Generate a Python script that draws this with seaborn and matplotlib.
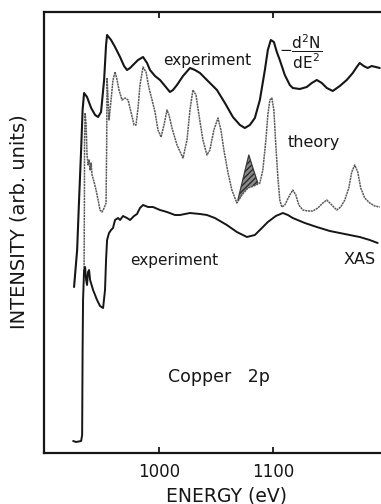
import numpy as np
import pandas as pd
import matplotlib
matplotlib.use("Agg")
import matplotlib.pyplot as plt
import seaborn as sns

# ---------------- data (energy in eV, intensity in arb. units) ----------------
aes_energy = [925.4, 928.1, 929.8, 931.6, 932.9, 934.2, 936.8, 940.4, 943.9, 946.5,
              949.1, 951.8, 953.5, 954.4, 957.9, 961.4, 965.8, 969.3, 971.9, 974.6,
              977.2, 981.6, 986.0, 989.5, 992.1, 996.5, 1000.9, 1005.3, 1009.6, 1012.3,
              1015.8, 1021.1, 1027.2, 1031.6, 1036.0, 1042.1, 1050.9, 1057.9, 1064.9, 1071.1,
              1075.4, 1079.8, 1084.2, 1088.6, 1093.0, 1095.6, 1098.2, 1100.9, 1103.5, 1106.1,
              1110.5, 1114.9, 1117.5, 1123.7, 1129.8, 1134.2, 1138.6, 1143.0, 1147.4, 1152.6,
              1158.8, 1164.9, 1170.2, 1173.7, 1176.3, 1179.8, 1183.3, 1186.8, 1190.4, 1193.9]
aes_intensity = [16.6, 20.3, 25.3, 30.3, 34.3, 36.0, 35.6, 34.5, 33.8, 33.6,
                 34.1, 37.3, 40.8, 41.8, 41.3, 40.6, 39.6, 38.7, 38.3, 38.5,
                 38.8, 39.3, 39.6, 39.0, 38.3, 37.7, 37.3, 36.7, 36.1, 36.3,
                 36.8, 37.7, 38.5, 38.3, 38.0, 37.3, 36.3, 35.0, 33.6, 32.8,
                 32.5, 32.8, 33.5, 35.3, 38.3, 40.3, 41.3, 41.1, 40.1, 39.3,
                 37.8, 36.8, 36.5, 36.4, 36.6, 37.0, 37.3, 37.0, 36.5, 36.2,
                 36.7, 37.3, 38.0, 38.6, 39.0, 38.7, 38.5, 38.7, 38.6, 38.5]

theory_energy = [934.2, 934.5, 934.6, 935.1, 936.0, 936.8, 937.7, 938.6, 939.5, 940.4,
                 941.2, 943.0, 944.7, 946.5, 948.2, 950.0, 951.8, 953.5, 954.0, 954.4,
                 955.3, 956.1, 957.9, 959.6, 961.4, 963.2, 964.9, 967.5, 970.2, 972.8,
                 975.4, 978.1, 979.8, 981.6, 983.3, 986.0, 988.6, 991.2, 993.9, 996.5,
                 999.1, 1001.8, 1004.4, 1007.0, 1008.8, 1011.4, 1015.8, 1021.1, 1024.6, 1027.2,
                 1029.8, 1032.5, 1035.1, 1038.6, 1042.1, 1044.7, 1048.2, 1051.8, 1054.4, 1057.0,
                 1060.5, 1064.0, 1068.4, 1072.8, 1078.1, 1083.3, 1088.6, 1091.2, 1093.9, 1095.6,
                 1097.4, 1099.1, 1100.9, 1102.6, 1104.4, 1106.1, 1107.9, 1110.5, 1114.9, 1117.5,
                 1120.2, 1122.8, 1126.3, 1130.7, 1135.1, 1139.5, 1143.9, 1147.4, 1151.8, 1156.1,
                 1159.6, 1163.2, 1166.7, 1169.3, 1171.9, 1174.6, 1177.2, 1180.7, 1185.1, 1189.5,
                 1193.9]
theory_intensity = [18.5, 25.3, 31.3, 34.0, 32.8, 29.8, 28.8, 29.3, 28.3, 29.0,
                    27.8, 27.1, 26.3, 25.3, 24.3, 24.1, 24.5, 25.0, 30.3, 37.5,
                    35.3, 33.3, 35.3, 37.3, 38.1, 37.3, 36.3, 35.3, 35.5, 35.3,
                    34.1, 32.8, 32.8, 34.5, 36.8, 38.6, 38.1, 36.5, 35.3, 34.1,
                    32.3, 31.6, 32.8, 34.3, 33.8, 32.5, 30.8, 29.5, 31.3, 34.3,
                    36.3, 35.8, 33.8, 31.3, 29.8, 30.3, 32.3, 33.5, 32.3, 30.3,
                    28.1, 26.3, 25.0, 25.8, 26.5, 26.7, 27.0, 28.3, 31.3, 33.8,
                    35.3, 35.5, 34.3, 30.8, 27.6, 25.3, 24.6, 24.8, 25.8, 26.3,
                    25.8, 24.8, 24.3, 24.2, 24.2, 24.5, 25.0, 25.3, 24.8, 24.3,
                    24.6, 25.3, 26.5, 28.1, 28.8, 28.1, 26.5, 25.5, 25.0, 24.7,
                    24.6]

# hatched extra peak on the theory curve
peak_energy = [1069.3, 1074.6, 1078.9, 1082.5, 1086.8]
peak_intensity = [25.3, 27.8, 29.8, 28.5, 27.0]

xas_energy = [924.6, 927.2, 931.6, 932.5, 932.9, 933.3, 934.2, 935.1, 936.0, 936.8,
              937.7, 938.6, 939.5, 942.1, 945.6, 948.2, 950.9, 952.6, 953.5, 954.4,
              956.1, 957.9, 959.6, 961.4, 964.0, 965.8, 968.4, 971.9, 974.6, 978.1,
              980.7, 983.3, 986.0, 990.4, 994.7, 1000.9, 1007.0, 1014.0, 1018.4, 1027.2,
              1036.0, 1042.1, 1049.1, 1059.6, 1068.4, 1077.2, 1084.2, 1090.4, 1095.6, 1102.6,
              1108.8, 1113.2, 1117.5, 1128.1, 1138.6, 1150.0, 1158.8, 1167.5, 1176.3, 1185.1,
              1192.1]
xas_intensity = [1.2, 1.1, 1.2, 1.8, 10.3, 15.3, 18.3, 18.6, 17.3, 16.8,
                 18.1, 18.3, 17.3, 16.3, 15.3, 14.7, 14.5, 16.3, 19.3, 21.3,
                 22.0, 22.3, 22.5, 23.3, 23.5, 23.3, 23.7, 23.5, 23.3, 23.7,
                 23.9, 24.5, 24.8, 24.6, 24.6, 24.3, 24.1, 23.8, 23.8, 24.0,
                 23.9, 23.8, 23.5, 22.8, 22.1, 21.6, 21.8, 22.5, 23.1, 23.7,
                 24.0, 23.8, 23.5, 23.0, 22.6, 22.2, 22.0, 21.8, 21.6, 21.3,
                 21.0]

x_ticks = [1000, 1100]
x_label = "ENERGY (eV)"
y_label = "INTENSITY (arb. units)"

# ---------------- style ----------------
sns.set_style("white")
plt.rcParams["font.family"] = ["DejaVu Sans"]
plt.rcParams["mathtext.fontset"] = "dejavusans"

fig = plt.figure(figsize=(3.81, 5.04), dpi=100)
ax = fig.add_axes([44 / 381, 51 / 504, 337 / 381, 441 / 504])

ink = "#161616"

df_aes = pd.DataFrame({"E": aes_energy, "I": aes_intensity})
df_th = pd.DataFrame({"E": theory_energy, "I": theory_intensity})
df_xas = pd.DataFrame({"E": xas_energy, "I": xas_intensity})

sns.lineplot(data=df_th, x="E", y="I", ax=ax, sort=False, estimator=None,
             color="#5a5a5a", linewidth=1.1, linestyle=(0, (1.4, 0.45)))
sns.lineplot(data=df_aes, x="E", y="I", ax=ax, sort=False, estimator=None,
             color=ink, linewidth=1.5)
sns.lineplot(data=df_xas, x="E", y="I", ax=ax, sort=False, estimator=None,
             color=ink, linewidth=1.4)

# hatched peak
pe = np.array(peak_energy)
base = np.interp(pe, theory_energy, theory_intensity)
ax.fill_between(pe, base, peak_intensity, facecolor="#8a8a8a", edgecolor="#2a2a2a",
                hatch="//////", linewidth=0.0)
ax.plot(pe, peak_intensity, color="#3a3a3a", linewidth=0.9)

# ---------------- axes ----------------
ax.set_xlim(899, 1195)
ax.set_ylim(0, 44.1)
ax.set_xticks(x_ticks)
ax.set_xticklabels([str(t) for t in x_ticks])
ax.set_yticks([])
ax.tick_params(axis="x", direction="in", length=4, width=1.3, top=True, bottom=True,
               labeltop=False, labelsize=12, pad=7, colors=ink)
for side in ["left", "bottom", "top"]:
    ax.spines[side].set_linewidth(1.6)
    ax.spines[side].set_color(ink)
ax.spines["right"].set_visible(False)
ax.set_xlabel("")
ax.set_ylabel("")

fig.text(226 / 381, 1 - 496 / 504, x_label, ha="center", va="center",
         fontsize=13.5, color=ink)
fig.text(19 / 381, 1 - 222 / 504, y_label, ha="center", va="center",
         rotation=90, fontsize=14, color=ink)

# ---------------- annotations ----------------
ax.text(1042.1, 39.3, "experiment", ha="center", va="center", fontsize=11, color=ink)
ax.text(1124.5, 40.1, r"$-\dfrac{\mathrm{d^2N}}{\mathrm{dE^2}}$", ha="center", va="center",
        fontsize=11, color=ink)
ax.text(1136.0, 31.1, "theory", ha="center", va="center", fontsize=11.5, color=ink)
ax.text(1013.2, 19.3, "experiment", ha="center", va="center", fontsize=11, color=ink)
ax.text(1176.3, 19.3, "XAS", ha="center", va="center", fontsize=11.5, color=ink)
ax.text(1052.6, 7.6, "Copper   2p", ha="center", va="center", fontsize=12.5, color=ink)

fig.savefig("out.png", dpi=100)
